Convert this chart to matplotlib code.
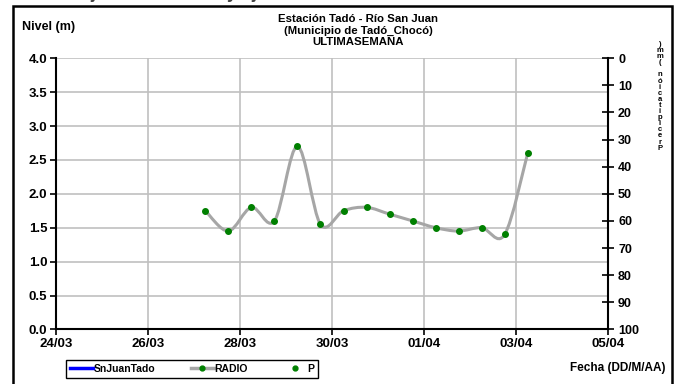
import matplotlib
matplotlib.use("Agg")
import matplotlib.pyplot as plt
import matplotlib.dates as mdates
from matplotlib.path import Path
from matplotlib.patches import PathPatch, Rectangle
from matplotlib.lines import Line2D
import pandas as pd

plt.rcParams['font.family'] = ['Liberation Sans', 'DejaVu Sans']
plt.rcParams['font.weight'] = 'bold'

# lecturas cada 12 horas (nivel en m)
fechas = ["2012-03-27 06:00", "2012-03-27 18:00", "2012-03-28 06:00", "2012-03-28 18:00",
          "2012-03-29 06:00", "2012-03-29 18:00", "2012-03-30 06:00", "2012-03-30 18:00",
          "2012-03-31 06:00", "2012-03-31 18:00", "2012-04-01 06:00", "2012-04-01 18:00",
          "2012-04-02 06:00", "2012-04-02 18:00", "2012-04-03 06:00"]
nivel = [1.75, 1.45, 1.80, 1.60, 2.70, 1.55, 1.75, 1.80, 1.70, 1.60, 1.50, 1.45, 1.50, 1.40, 2.60]

x_ticks = ["2012-03-24", "2012-03-26", "2012-03-28", "2012-03-30", "2012-04-01", "2012-04-03", "2012-04-05"]
y_ticks = [0.0, 0.5, 1.0, 1.5, 2.0, 2.5, 3.0, 3.5, 4.0]
p_ticks = [0, 10, 20, 30, 40, 50, 60, 70, 80, 90, 100]

W, H = 681, 384


def smooth_path(xs, ys):
    # curva suavizada tipo Excel (bezier cardinal)
    n = len(xs)
    verts = [(xs[0], ys[0])]
    codes = [Path.MOVETO]
    for i in range(n - 1):
        xa, ya = (xs[i - 1], ys[i - 1]) if i > 0 else (xs[i], ys[i])
        xd, yd = (xs[i + 2], ys[i + 2]) if i + 2 < n else (xs[i + 1], ys[i + 1])
        c1 = (xs[i] + (xs[i + 1] - xa) / 6, ys[i] + (ys[i + 1] - ya) / 6)
        c2 = (xs[i + 1] - (xd - xs[i]) / 6, ys[i + 1] - (yd - ys[i]) / 6)
        verts += [c1, c2, (xs[i + 1], ys[i + 1])]
        codes += [Path.CURVE4] * 3
    return Path(verts, codes)


x = mdates.date2num(pd.to_datetime(fechas))
xt = mdates.date2num(pd.to_datetime(x_ticks))

fig = plt.figure(figsize=(W / 100, H / 100), dpi=100)
ax = fig.add_axes([55.7 / W, 1 - 329.4 / H, (608.3 - 55.7) / W, (329.4 - 58.2) / H])

ax.add_patch(PathPatch(smooth_path(list(x), nivel), facecolor="none",
                       edgecolor="#a6a6a6", lw=2.2, zorder=3))
ax.plot(x, nivel, "o", color="#008000", ms=4, zorder=4)

ax.set_xlim(xt[0], xt[-1])
ax.set_ylim(0, 4)
ax.set_xticks(xt)
ax.set_xticklabels([pd.to_datetime(d).strftime("%d/%m") for d in x_ticks], fontsize=9.5)
ax.set_yticks(y_ticks)
ax.set_yticklabels([f"{v:.1f}" for v in y_ticks], fontsize=9.5)
ax.grid(True, color="#c0c0c0", lw=1.2, zorder=0)
ax.tick_params(axis="both", length=4, width=1.2, direction="out", pad=2)
for s in ["top", "right"]:
    ax.spines[s].set_visible(False)
for s in ["left", "bottom"]:
    ax.spines[s].set_linewidth(1.5)

ax2 = ax.twinx()
ax2.set_ylim(100, 0)
ax2.set_yticks(p_ticks)
ax2.set_yticklabels([str(v) for v in p_ticks], fontsize=9)
ax2.tick_params(axis="y", length=8, width=1.2, direction="inout", pad=3)
for s in ["top", "left", "bottom"]:
    ax2.spines[s].set_visible(False)
ax2.spines["right"].set_linewidth(1.5)

# textos
fig.text(358 / W, 1 - 19 / H, "Estación Tadó - Río San Juan", ha="center", va="center", fontsize=8.2)
fig.text(358 / W, 1 - 30.5 / H, "(Municipio de Tadó_Chocó)", ha="center", va="center", fontsize=8.2)
fig.text(358 / W, 1 - 42 / H, "ULTIMASEMANA", ha="center", va="center", fontsize=8.2)
fig.text(22 / W, 1 - 27 / H, "Nivel (m)", ha="left", va="center", fontsize=9)
fig.text(665 / W, 1 - 368 / H, "Fecha (DD/M/AA)", ha="right", va="center", fontsize=8.5)
fig.text(660 / W, 1 - 41 / H, "\n".join(reversed("Precipitación (mm)")), ha="center", va="top",
         fontsize=5.5, linespacing=0.82)
fig.text(15 / W, 1 + 1.5 / H, "Datos sujetos a revisión y ajustes", ha="left", va="baseline",
         fontsize=13, color="#404040")

# marco
fig.patches.append(Rectangle((13 / W, -0.05), (672 - 13) / W, 1.05 - 6 / H, transform=fig.transFigure,
                             fill=False, edgecolor="black", lw=1.8))

handles = [Line2D([], [], color="#0000ff", lw=2.5),
           Line2D([], [], color="#a6a6a6", lw=2.5, marker="o", ms=3.5,
                  markerfacecolor="#008000", markeredgecolor="#008000"),
           Line2D([], [], color="none", marker="o", ms=3.5,
                  markerfacecolor="#008000", markeredgecolor="#008000")]
leg = fig.legend(handles, ["SnJuanTado", "RADIO", "P"], loc="center",
                 bbox_to_anchor=(192 / W, 1 - 369 / H), ncol=3, fontsize=7.5,
                 frameon=True, fancybox=False, edgecolor="black", framealpha=1,
                 handlelength=2.2, handletextpad=0.1, columnspacing=3.4, borderpad=0.35)
leg.get_frame().set_linewidth(1.0)

fig.savefig("out.png", dpi=100)
